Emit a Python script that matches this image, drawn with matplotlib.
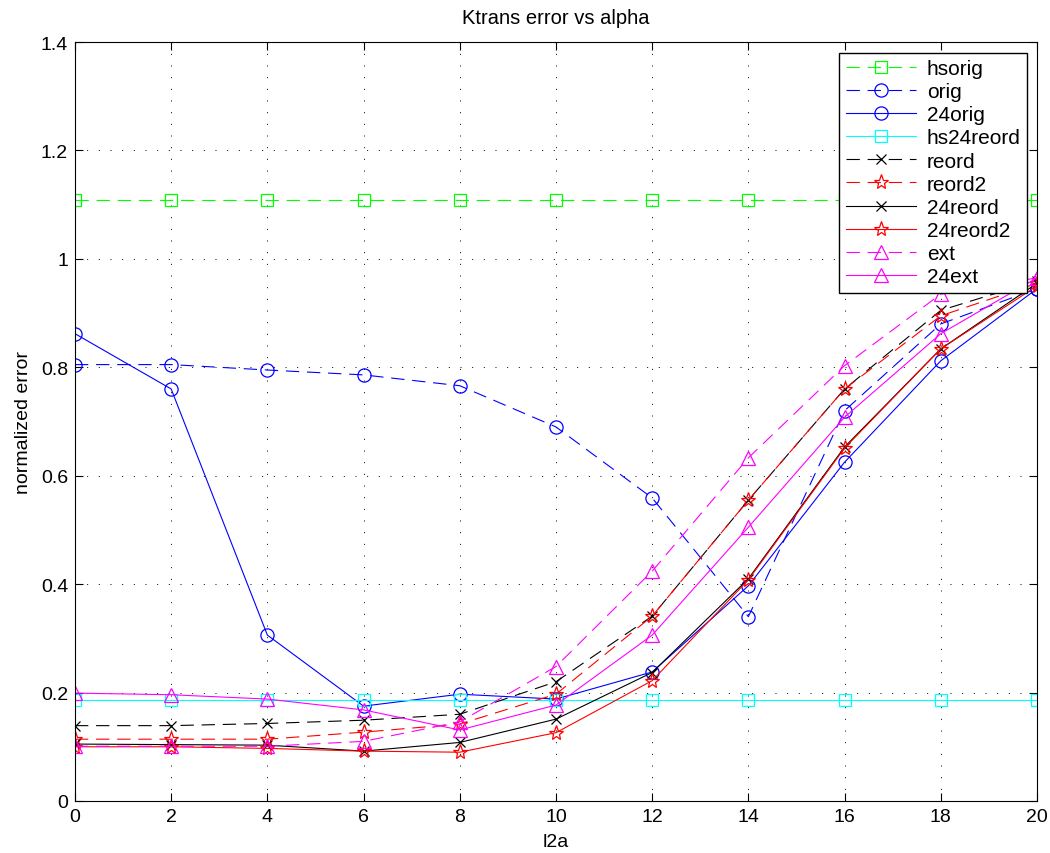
import numpy as np
import matplotlib
matplotlib.use('Agg')
import matplotlib.pyplot as plt

l2a = [0, 2, 4, 6, 8, 10, 12, 14, 16, 18, 20]

hsorig = [1.108] * 11
orig = [0.805, 0.805, 0.795, 0.786, 0.766, 0.690, 0.559, 0.340, 0.720, 0.880, 0.945]
orig24 = [0.862, 0.760, 0.306, 0.175, 0.197, 0.188, 0.238, 0.397, 0.625, 0.812, 0.945]
hs24reord = [0.187] * 11
reord = [0.139, 0.139, 0.143, 0.149, 0.160, 0.220, 0.341, 0.555, 0.760, 0.905, 0.960]
reord2 = [0.114, 0.114, 0.114, 0.127, 0.142, 0.197, 0.341, 0.555, 0.760, 0.895, 0.955]
reord24 = [0.105, 0.104, 0.103, 0.092, 0.108, 0.151, 0.237, 0.410, 0.653, 0.834, 0.955]
reord2_24 = [0.100, 0.100, 0.097, 0.092, 0.090, 0.126, 0.222, 0.408, 0.651, 0.834, 0.950]
ext = [0.101, 0.101, 0.101, 0.110, 0.146, 0.248, 0.424, 0.633, 0.803, 0.935, 0.965]
ext24 = [0.199, 0.196, 0.188, 0.168, 0.131, 0.177, 0.306, 0.505, 0.708, 0.862, 0.965]

series = [
    ('hsorig', hsorig, '#00ff00', 's', '--'),
    ('orig', orig, '#0000ff', 'o', '--'),
    ('24orig', orig24, '#0000ff', 'o', '-'),
    ('hs24reord', hs24reord, '#00ffff', 's', '-'),
    ('reord', reord, 'black', 'x', '--'),
    ('reord2', reord2, '#ff0000', '*', '--'),
    ('24reord', reord24, 'black', 'x', '-'),
    ('24reord2', reord2_24, '#ff0000', '*', '-'),
    ('ext', ext, '#ff00ff', '^', '--'),
    ('24ext', ext24, '#ff00ff', '^', '-'),
]

marker_sizes = {'s': 8, 'o': 9.5, 'x': 7.5, '*': 11, '^': 10}

plt.rcParams['font.family'] = ['Liberation Sans', 'DejaVu Sans']

fig = plt.figure(figsize=(10.5, 8.54), dpi=100)
ax = fig.add_axes([0.0714, 0.0609, 0.9162, 0.8887])

for name, y, color, marker, ls in series:
    line, = ax.plot(l2a, y, color=color, marker=marker, linestyle=ls, linewidth=0.8,
                    markersize=marker_sizes[marker], markerfacecolor='none',
                    markeredgecolor=color, markeredgewidth=0.9, label=name)
    if ls == '--':
        line.set_dashes((12, 7))

ax.set_xlim(0, 20)
ax.set_ylim(0, 1.4)
ax.set_xticks(np.arange(0, 21, 2))
ax.set_yticks(np.arange(0, 1.41, 0.2))
ax.set_yticklabels(['0', '0.2', '0.4', '0.6', '0.8', '1', '1.2', '1.4'])
ax.tick_params(direction='in', top=True, right=True, labelsize=14, length=6, pad=5)
ax.grid(True, linestyle=(0, (1, 11)), color='black', linewidth=0.7)
ax.set_xlabel('l2a', fontsize=14, labelpad=6)
ax.set_ylabel('normalized error', fontsize=14, labelpad=6)
ax.set_title('Ktrans error vs alpha', fontsize=14.5, pad=14)

leg = ax.legend(loc='upper right', bbox_to_anchor=(0.9896, 0.986), fontsize=15,
                handlelength=3.4, handletextpad=0.5, fancybox=False, edgecolor='black',
                framealpha=1, borderpad=0.3, labelspacing=0.2, borderaxespad=0)
leg.get_frame().set_linewidth(1.0)

fig.savefig('out.png', dpi=100)
